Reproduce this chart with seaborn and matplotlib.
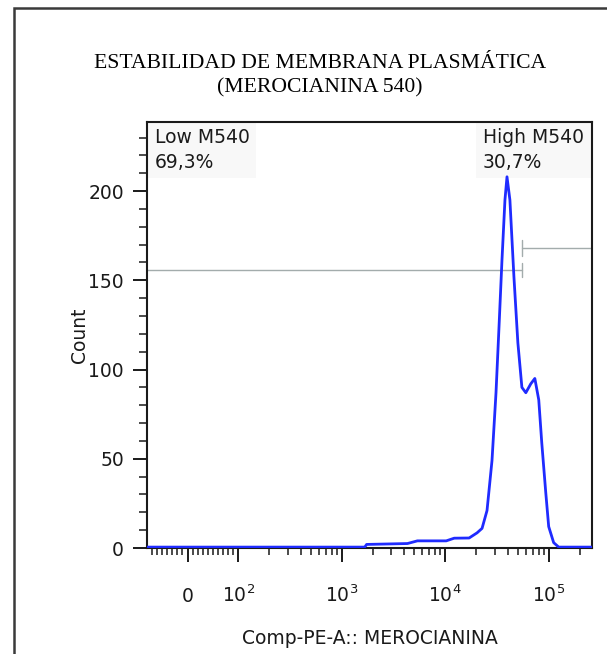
import numpy as np
import pandas as pd
import matplotlib
matplotlib.use('Agg')
import matplotlib.pyplot as plt
import seaborn as sns
from matplotlib.ticker import FixedLocator, FixedFormatter
from matplotlib.patches import Rectangle

# ---------------- data ----------------
fluorescence = [-80, 1667, 1740, 4315, 5385, 10230, 12220, 17020, 20320, 22700,
                25350, 28320, 30960, 33110, 35340, 37780, 39540, 42190, 46130,
                50360, 55080, 60120, 67150, 73450, 80170, 85700, 93700, 100000,
                111700, 125000, 262144]
counts = [0.5, 0.5, 2, 2.5, 4, 4, 5.5, 5.6, 8.5, 11,
          21, 49, 87, 124, 161, 195, 208, 195, 152,
          115, 90, 87, 92, 95, 83, 59, 31, 12,
          3, 0.5, 0.5]

gate_names = ['Low M540', 'High M540']
gate_pcts = ['69,3%', '30,7%']
gate_start = [-80, 55080]
gate_end = [55080, 262144]
gate_level = [155.7, 168.0]

x_major = [0, 100, 1000, 10000, 100000]
x_major_labels = ['0', '10^{2}', '10^{3}', '10^{4}', '10^{5}']
y_major = [0, 50, 100, 150, 200]

title_lines = ['ESTABILIDAD DE MEMBRANA PLASMÁTICA', '(MEROCIANINA 540)']
x_label = 'Comp-PE-A:: MEROCIANINA'
y_label = 'Count'

# ---------------- style ----------------
sns.set_style('ticks')
plt.rcParams['font.family'] = ['DejaVu Sans']
plt.rcParams['mathtext.fontset'] = 'dejavusans'

W, H = 607, 654
fig = plt.figure(figsize=(W / 100, H / 100), dpi=100)
ax = fig.add_axes([147 / W, 1 - 548 / H, 445 / W, 426 / H])

df = pd.DataFrame({'x': fluorescence, 'count': counts})
sns.lineplot(data=df, x='x', y='count', ax=ax, color='#1f2bff', lw=2.0,
             sort=False, estimator=None, zorder=3)

ax.set_xscale('symlog', linthresh=100, linscale=0.441, base=10)
ax.set_xlim(-80, 262144)
ax.set_ylim(0, 238.7)

# gates
gate_color = '#a3acac'
for s, e, lvl in zip(gate_start, gate_end, gate_level):
    ax.plot([s, e], [lvl, lvl], color=gate_color, lw=1.0, zorder=2)
ax.plot([gate_end[0]] * 2, [gate_level[0] - 4, gate_level[0] + 4], color=gate_color, lw=1.0)
ax.plot([gate_start[1]] * 2, [gate_level[1] - 4.5, gate_level[1] + 4.5], color=gate_color, lw=1.0)

# gate labels
box = dict(boxstyle='square,pad=0.35', facecolor='#f8f8f8', edgecolor='none')
ax.text(0.018, 0.985, gate_names[0] + '\n' + gate_pcts[0], transform=ax.transAxes,
        ha='left', va='top', fontsize=13.5, linespacing=1.35, color='#1a1a1a',
        bbox=box, zorder=1)
ax.text(0.755, 0.985, gate_names[1] + '\n' + gate_pcts[1], transform=ax.transAxes,
        ha='left', va='top', fontsize=13.5, linespacing=1.35, color='#1a1a1a',
        bbox=box, zorder=1)

# x ticks
x_minor = [v for v in range(-70, 0, 10)] + [v for v in range(10, 100, 10)]
for dec in [100, 1000, 10000, 100000]:
    x_minor += [m * dec for m in range(2, 10)]
x_minor = [v for v in x_minor if v < 262144]
ax.xaxis.set_major_locator(FixedLocator(x_major))
ax.xaxis.set_minor_locator(FixedLocator(x_minor))
ax.set_xticks(x_major, [r'$\mathregular{%s}$' % l for l in x_major_labels], va='baseline')

# y ticks
ax.yaxis.set_major_locator(FixedLocator(y_major))
ax.yaxis.set_minor_locator(FixedLocator([v for v in range(10, 240, 10) if v % 50]))
ax.set_yticks(y_major, [str(v) for v in y_major])

ax.tick_params(axis='x', which='major', length=10, width=1.4, pad=29, labelsize=13.5,
               color='#1a1a1a', labelcolor='#1a1a1a', direction='out')
ax.tick_params(axis='x', which='minor', length=5, width=1.1, color='#1a1a1a', direction='out')
ax.tick_params(axis='y', which='major', length=10, width=1.4, pad=6.5, labelsize=13.5,
               color='#1a1a1a', labelcolor='#1a1a1a', direction='out')
ax.tick_params(axis='y', which='minor', length=5.5, width=1.1, color='#1a1a1a', direction='out')

for sp in ax.spines.values():
    sp.set_visible(True)
    sp.set_linewidth(1.5)
    sp.set_color('#1a1a1a')

ax.set_xlabel(x_label, fontsize=13.5, color='#1a1a1a')
ax.set_ylabel(y_label, fontsize=13.5, color='#1a1a1a')
ax.xaxis.set_label_coords(0.5, (548 - 638) / 426)
ax.xaxis.label.set_va('center')
ax.yaxis.set_label_coords((80 - 147) / 445, 0.5)
ax.yaxis.label.set_va('center')

# title
fig.text(320 / W, 1 - 63 / H, title_lines[0], ha='center', va='center',
         family='Liberation Serif', fontsize=15.6, color='#000000')
fig.text(320 / W, 1 - 88 / H, title_lines[1], ha='center', va='center',
         family='Liberation Serif', fontsize=15.6, color='#000000')

# outer frame
fig.patches.append(Rectangle((13.5 / W, -0.2), 2.0, 1.2 - 7.5 / H, transform=fig.transFigure,
                             fill=False, edgecolor='#3a3a3a', lw=1.8, figure=fig))

fig.savefig('out.png', dpi=100)
